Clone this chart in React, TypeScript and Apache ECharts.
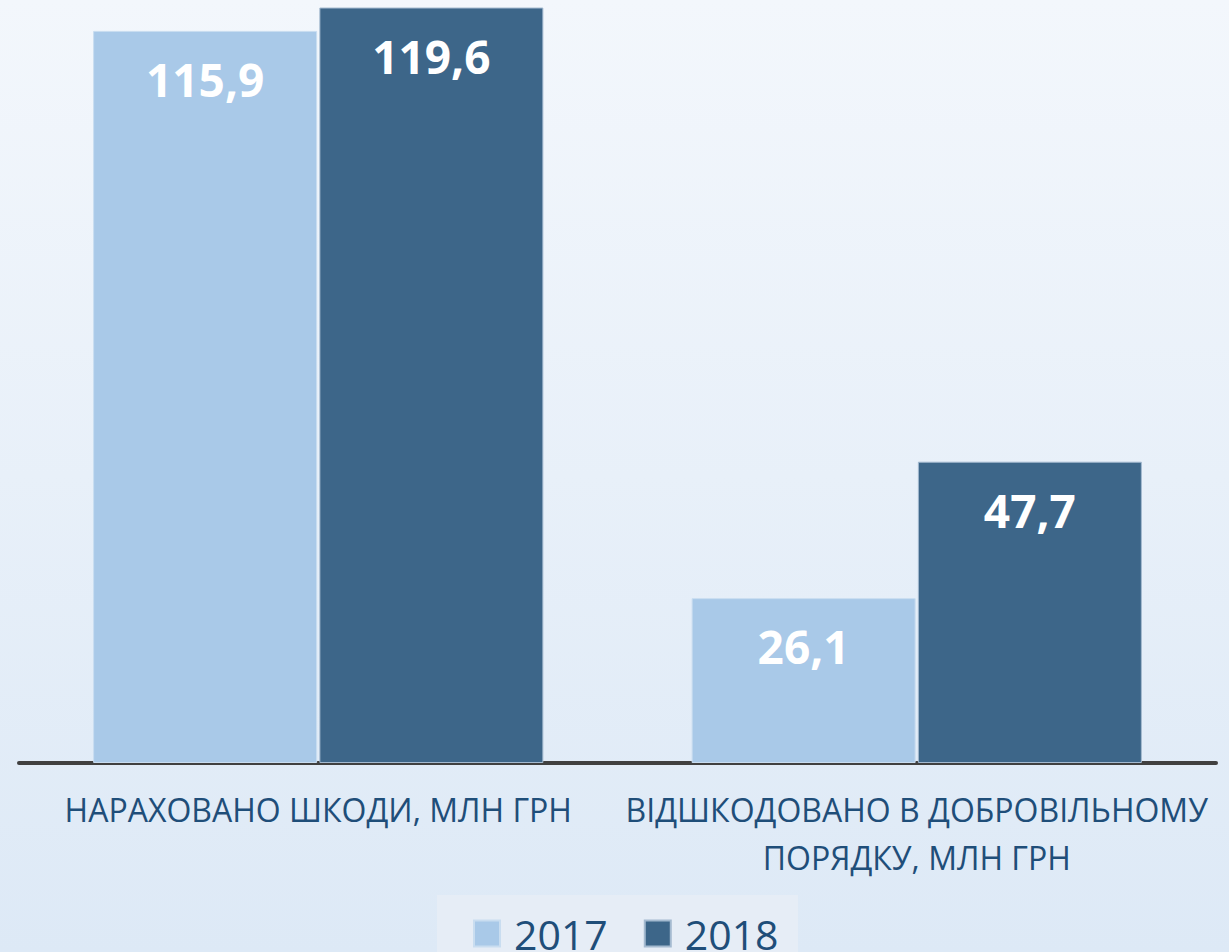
import React, { useEffect, useRef } from "react";
import * as echarts from "echarts";

const categories = [
  "НАРАХОВАНО ШКОДИ, МЛН ГРН",
  "ВІДШКОДОВАНО В ДОБРОВІЛЬНОМУ\nПОРЯДКУ, МЛН ГРН",
];
const seriesNames = ["2017", "2018"];
const values2017 = [115.9, 26.1];
const values2018 = [119.6, 47.7];

const FONT = "'Open Sans', 'Noto Sans', sans-serif";

export default function App() {
  const ref = useRef<HTMLDivElement>(null);
  useEffect(() => {
    if (!ref.current) return;
    const chart = echarts.init(ref.current, undefined, { renderer: "svg" });
    const labelFmt = (p: any) => String(p.value).replace(".", ",");
    chart.setOption({
      animation: false,
      backgroundColor: {
        type: "linear",
        x: 0,
        y: 0,
        x2: 0,
        y2: 1,
        colorStops: [
          { offset: 0, color: "#f3f7fc" },
          { offset: 1, color: "#dde9f6" },
        ],
      },
      graphic: [
        {
          type: "rect",
          left: 437,
          top: 895,
          shape: { width: 361, height: 57 },
          style: { fill: "#e6edf6" },
          z: -1,
        },
      ],
      grid: { left: 19, right: 13, top: 5, bottom: 189 },
      legend: {
        data: seriesNames,
        left: 473,
        top: 913,
        padding: 0,
        icon: "rect",
        itemWidth: 26,
        itemHeight: 26,
        itemGap: 36,
        textStyle: {
          fontFamily: FONT,
          fontSize: 41,
          color: "#1f4e79",
          lineHeight: 38,
          padding: [0, 0, 0, 9],
        },
      },
      xAxis: {
        type: "category",
        data: categories,
        axisLine: { lineStyle: { color: "#404040", width: 4 } },
        axisTick: { show: false },
        axisLabel: {
          interval: 0,
          margin: 22,
          fontFamily: FONT,
          fontSize: 32,
          lineHeight: 48,
          color: "#1f4e79",
        },
      },
      yAxis: {
        type: "value",
        min: 0,
        max: 120,
        show: false,
        splitLine: { show: false },
      },
      series: [
        {
          name: seriesNames[0],
          type: "bar",
          data: values2017,
          barWidth: 224,
          barGap: "1%",
          itemStyle: { color: "#a9c9e8", borderColor: "#c9ddf0", borderWidth: 1 },
          label: {
            show: true,
            position: "insideTop",
            distance: 25,
            formatter: labelFmt,
            fontFamily: FONT,
            fontWeight: "bold",
            fontSize: 46,
            color: "#ffffff",
          },
        },
        {
          name: seriesNames[1],
          type: "bar",
          data: values2018,
          barWidth: 224,
          barGap: "1%",
          itemStyle: { color: "#3d6689", borderColor: "#a4bad0", borderWidth: 1 },
          label: {
            show: true,
            position: "insideTop",
            distance: 25,
            formatter: labelFmt,
            fontFamily: FONT,
            fontWeight: "bold",
            fontSize: 46,
            color: "#ffffff",
          },
        },
      ],
    });
    return () => chart.dispose();
  }, []);
  return (
    <div
      ref={ref}
      style={{ position: "fixed", left: 0, top: 0, width: 1229, height: 952 }}
    />
  );
}
